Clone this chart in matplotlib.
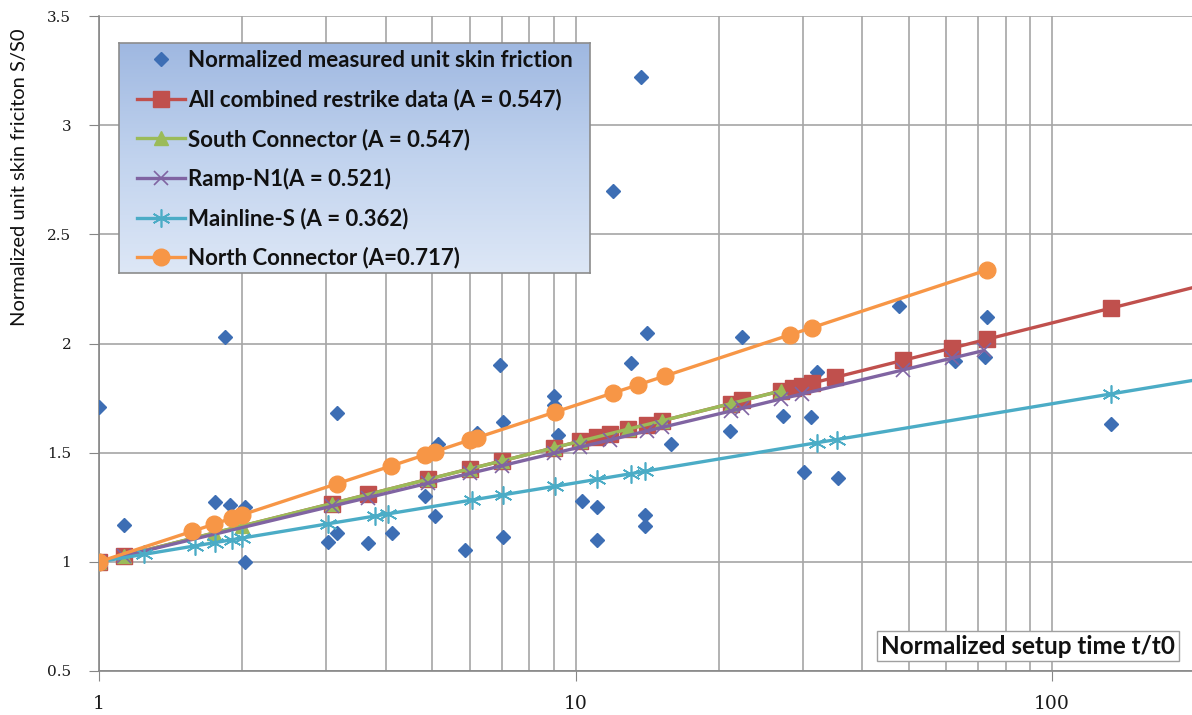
import numpy as np
import matplotlib
matplotlib.use("Agg")
from matplotlib import pyplot as plt
from matplotlib.colors import LinearSegmentedColormap

plt.rcParams['font.family'] = ['Lato', 'DejaVu Sans']

# measured points (t/t0, S/S0)
meas_t = [1.0, 1.13, 1.75, 1.84, 1.88, 2.02, 2.02, 3.02, 3.16, 3.16, 3.67, 4.12, 4.83, 5.07, 5.14,
          5.86, 6.2, 6.93, 7.05, 7.05, 9.0, 9.0, 9.2, 10.3, 11.1, 11.1, 12.0, 13.1, 13.7, 14.0,
          14.0, 14.1, 15.9, 21.1, 22.4, 27.3, 30.2, 31.2, 32.2, 35.6, 47.8, 62.5, 72.5, 72.9, 133]
meas_s = [1.71, 1.17, 1.275, 2.03, 1.26, 1.25, 1.0, 1.09, 1.13, 1.68, 1.087, 1.133, 1.30, 1.21, 1.54,
          1.055, 1.59, 1.90, 1.115, 1.64, 1.76, 1.72, 1.58, 1.28, 1.25, 1.10, 2.70, 1.91, 3.22, 1.215,
          1.165, 2.05, 1.54, 1.60, 2.03, 1.67, 1.41, 1.665, 1.87, 1.385, 2.17, 1.92, 1.94, 2.12, 1.63]

# fitted restrike curves (last point of "all" and mainline is the extended fit, no marker)
all_t = [1, 1.13, 3.08, 3.67, 4.9, 6.0, 7.0, 9.0, 10.2, 11.1, 11.8, 12.9, 14.1, 15.2, 21.2, 22.4,
         27.0, 28.6, 29.9, 31.4, 35.1, 48.7, 61.7, 72.9, 133, 200]
all_s = [1.000, 1.029, 1.267, 1.309, 1.378, 1.426, 1.462, 1.522, 1.552, 1.572, 1.586, 1.608, 1.629,
         1.646, 1.725, 1.739, 1.783, 1.797, 1.807, 1.819, 1.845, 1.923, 1.979, 2.019, 2.162, 2.259]

south_t = [1, 1.13, 1.74, 2.0, 3.08, 4.9, 6.0, 7.0, 9.0, 10.2, 12.9, 15.2, 21.2, 27.0]
south_s = [1.000, 1.029, 1.132, 1.165, 1.267, 1.378, 1.426, 1.462, 1.522, 1.552, 1.608, 1.646,
           1.725, 1.783]

ramp_t = [1, 1.13, 3.08, 3.67, 4.9, 6.0, 7.0, 9.0, 10.2, 11.8, 14.1, 15.2, 21.2, 22.4, 27.0, 29.9,
          48.7, 61.7, 72.0]
ramp_s = [1.000, 1.028, 1.255, 1.294, 1.360, 1.405, 1.440, 1.497, 1.525, 1.558, 1.599, 1.616,
          1.691, 1.703, 1.746, 1.769, 1.879, 1.933, 1.968]

main_t = [1, 1.24, 1.59, 1.75, 1.9, 2.0, 3.02, 3.8, 4.05, 6.06, 7.05, 9.06, 11.1, 13.1, 14.0, 32.2,
          35.3, 133, 200]
main_s = [1.000, 1.034, 1.073, 1.088, 1.101, 1.109, 1.174, 1.210, 1.220, 1.283, 1.307, 1.346,
          1.378, 1.404, 1.415, 1.546, 1.560, 1.769, 1.833]

north_t = [1, 1.57, 1.74, 1.9, 2.0, 3.16, 4.1, 4.83, 5.07, 6.0, 6.2, 9.06, 12.0, 13.5, 15.4, 28.2,
           31.3, 72.9]
north_s = [1.000, 1.140, 1.172, 1.200, 1.216, 1.358, 1.439, 1.490, 1.505, 1.558, 1.568, 1.686,
           1.774, 1.810, 1.851, 2.040, 2.072, 2.336]

labels = ['Normalized measured unit skin friction',
          'All combined restrike data (A = 0.547)',
          'South Connector (A = 0.547)',
          'Ramp-N1(A = 0.521)',
          'Mainline-S (A = 0.362)',
          'North Connector (A=0.717)']

W, H = 1192, 715
fig = plt.figure(figsize=(W / 100, H / 100), dpi=100)
ax = fig.add_axes([99 / W, 1 - 671 / H, 1 - 99 / W, (671 - 16) / H])

ax.plot(meas_t, meas_s, linestyle='none', marker='D', ms=7.5, color='#3D6EB4',
        label=labels[0], zorder=3)
ax.plot(all_t, all_s, color='#C0504D', lw=2.4, marker='s', ms=11.5,
        markevery=list(range(len(all_t) - 1)), label=labels[1], zorder=4)
ax.plot(south_t, south_s, color='#9BBB59', lw=2.4, marker='^', ms=9.5, label=labels[2], zorder=4)
ax.plot(ramp_t, ramp_s, color='#8064A2', lw=2.4, marker='x', ms=10, mew=1.2,
        label=labels[3], zorder=4)
ax.plot(main_t, main_s, color='#4BACC6', lw=2.4, marker=(6, 2, 0), ms=13, mew=1.2,
        markevery=list(range(len(main_t) - 1)), label=labels[4], zorder=4)
ax.plot(north_t, north_s, color='#F79646', lw=2.4, marker='o', ms=12, label=labels[5], zorder=4)

ax.set_xscale('log')
ax.set_xlim(1, 196.7)
ax.set_ylim(0.5, 3.5)
ax.set_yticks(np.arange(0.5, 3.51, 0.5))
ax.set_yticklabels(['0.5', '1', '1.5', '2', '2.5', '3', '3.5'])
ax.set_xticks([1, 10, 100])
ax.set_xticklabels(['1', '10', '100'])
ax.grid(True, which='both', color='#A6A6A6', lw=1.2)
ax.set_axisbelow(True)
ax.tick_params(which='major', length=7, color='#868686', labelcolor='#1A1A1A')
ax.tick_params(axis='y', labelsize=11, pad=13)
ax.tick_params(axis='x', labelsize=13.5, pad=10)
ax.tick_params(which='minor', length=0)
for lbl in ax.get_xticklabels() + ax.get_yticklabels():
    lbl.set_fontfamily('DejaVu Serif')
for side in ['top', 'right']:
    ax.spines[side].set_visible(False)
for side in ['left', 'bottom']:
    ax.spines[side].set_color('#868686')
    ax.spines[side].set_linewidth(1.2)

fig.text(20 / W, 1 - 177 / H, 'Normalized unit skin friciton S/S0', rotation=90,
         ha='center', va='center', fontsize=14.5, color='#111111')

fig.text(1028 / W, 1 - 646 / H, 'Normalized setup time t/t0', ha='center', va='center',
         fontsize=17.5, fontweight='bold', color='#111111', zorder=6,
         bbox=dict(facecolor='white', edgecolor='#A0A0A0', boxstyle='square,pad=0.15', lw=1))

# legend panel: blue gradient with grey border
gax = fig.add_axes([119 / W, 1 - 273 / H, (590 - 119) / W, (273 - 43) / H], zorder=1)
grad = np.linspace(0, 1, 256).reshape(-1, 1)
cmap = LinearSegmentedColormap.from_list('legend_bg', ['#9FB8E1', '#C1D3EE', '#DDE7F6'])
gax.imshow(grad, cmap=cmap, aspect='auto', extent=(0, 1, 0, 1), origin='upper')
gax.set_xticks([])
gax.set_yticks([])
for s in gax.spines.values():
    s.set_color('#8C8C8C')
    s.set_linewidth(1.2)

handles, _ = ax.get_legend_handles_labels()
leg = fig.legend(handles, labels, loc='upper left', bbox_to_anchor=(137 / W, 1 - 50 / H),
                 prop={'weight': 'bold', 'size': 16}, frameon=False,
                 handlelength=2.15, handletextpad=0.15, labelspacing=0.8,
                 borderpad=0, borderaxespad=0, numpoints=1)
leg.set_zorder(5)
for t in leg.get_texts():
    t.set_color('#111111')

fig.savefig('out.png', dpi=100)
